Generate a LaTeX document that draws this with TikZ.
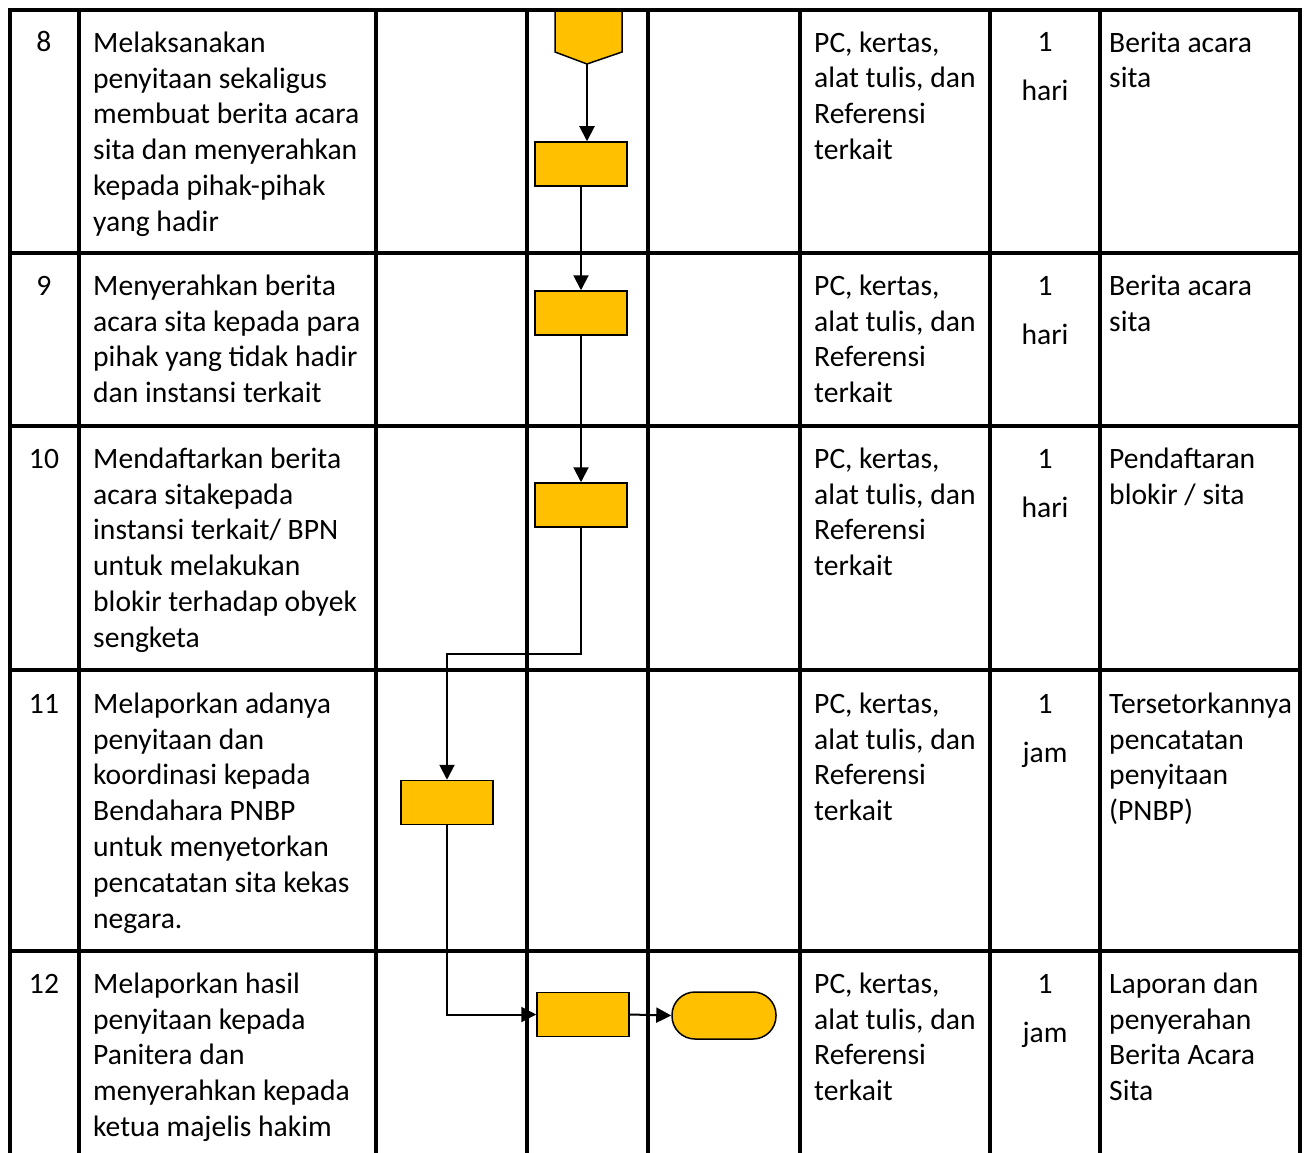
\documentclass[tikz,border=0pt]{standalone}
\usepackage{fontspec}
\setmainfont{Carlito}
\usetikzlibrary{arrows.meta,calc}
\definecolor{boxfill}{HTML}{FFC000}
\begin{document}
\begin{tikzpicture}[x=1pt,y=-1pt,
  grid/.style={line width=4pt,line cap=rect},
  txt/.style={anchor=north west,inner sep=0pt,align=left,font=\fontsize{29.6}{35.8}\selectfont},
  ctr/.style={anchor=base,inner sep=0pt,font=\fontsize{29.6}{35.8}\selectfont},
  proc/.style={draw,line width=1.5pt,fill=boxfill,minimum width=92pt,minimum height=44pt,inner sep=0pt},
  term/.style={draw,line width=1.5pt,fill=boxfill,minimum width=104pt,minimum height=47pt,inner sep=0pt,rounded corners=23pt},
  conn/.style={line width=2pt},
  arr/.style={conn,-{Triangle[length=15pt,width=15pt]}}]
\useasboundingbox (0,0) rectangle (1311,1153);
\fill[white] (0,0) rectangle (1311,1153);

% ---------- shapes ----------
\draw[line width=1.5pt,fill=boxfill] (555,10) -- (622,10) -- (622,52) -- (587,64) -- (555,52) -- cycle;
\coordinate (c0) at (587,64);
\node[proc] (b1) at (581,164) {};
\node[proc] (b2) at (581,313) {};
\node[proc] (b3) at (581,505) {};
\node[proc] (b4) at (447,802.5) {};
\node[proc] (b5) at (583,1014.5) {};
\node[term] (t1) at (724,1015.5) {};
\coordinate (k1) at (447,654);

\draw[arr] (c0) -- (c0 |- b1.north);
\draw[arr] (b1.south) -- (b2.north);
\draw[arr] (b2.south) -- (b3.north);
\draw[arr] (b3.south) |- (k1) -- (b4.north);
\draw[arr] (b4.south) |- (b5.west);
\draw[arr] (b5.east) -- (t1.west);

% ---------- table ----------
\draw[grid] (10,10) -- (1300,10);
\foreach \y in {253,426,670,951} \draw[grid] (10,\y) -- (1300,\y);
\foreach \x in {10,79,376,527,648,800,990,1100,1300} \draw[grid] (\x,10) -- (\x,1160);

% ---------- row 8 ----------
\node[ctr] (n8) at (44,52) {8};
\node[txt] (d8) at (93,26.94) {\strut Melaksanakan\\penyitaan sekaligus\\membuat berita acara\\sita dan menyerahkan\\kepada pihak-pihak\\yang hadir};
\node[txt] (r8) at (814,26.94) {\strut PC, kertas,\\alat tulis, dan\\Referensi\\terkait};
\node[ctr] (w8) at (1045,52) {1};
\node[ctr] (u8) at (1045,101) {hari};
\node[txt] (o8) at (1109,26.94) {\strut Berita acara\\sita};

% ---------- row 9 ----------
\node[ctr] (n9) at (44,295) {9};
\node[txt] (d9) at (93,269.94) {\strut Menyerahkan berita\\acara sita kepada para\\pihak yang tidak hadir\\dan instansi terkait};
\node[txt] (r9) at (814,269.94) {\strut PC, kertas,\\alat tulis, dan\\Referensi\\terkait};
\node[ctr] (w9) at (1045,295) {1};
\node[ctr] (u9) at (1045,344) {hari};
\node[txt] (o9) at (1109,269.94) {\strut Berita acara\\sita};

% ---------- row 10 ----------
\node[ctr] (n10) at (44,468) {10};
\node[txt] (d10) at (93,442.94) {\strut Mendaftarkan berita\\acara sitakepada\\instansi terkait/ BPN\\untuk melakukan\\blokir terhadap obyek\\sengketa};
\node[txt] (r10) at (814,442.94) {\strut PC, kertas,\\alat tulis, dan\\Referensi\\terkait};
\node[ctr] (w10) at (1045,468) {1};
\node[ctr] (u10) at (1045,517) {hari};
\node[txt] (o10) at (1109,442.94) {\strut Pendaftaran\\blokir / sita};

% ---------- row 11 ----------
\node[ctr] (n11) at (44,713) {11};
\node[txt] (d11) at (93,687.94) {\strut Melaporkan adanya\\penyitaan dan\\koordinasi kepada\\Bendahara PNBP\\untuk menyetorkan\\pencatatan sita kekas\\negara.};
\node[txt] (r11) at (814,687.94) {\strut PC, kertas,\\alat tulis, dan\\Referensi\\terkait};
\node[ctr] (w11) at (1045,713) {1};
\node[ctr] (u11) at (1045,762) {jam};
\node[txt] (o11) at (1109,687.94) {\strut Tersetorkannya\\pencatatan\\penyitaan\\(PNBP)};

% ---------- row 12 ----------
\node[ctr] (n12) at (44,993) {12};
\node[txt] (d12) at (93,967.94) {\strut Melaporkan hasil\\penyitaan kepada\\Panitera dan\\menyerahkan kepada\\ketua majelis hakim};
\node[txt] (r12) at (814,967.94) {\strut PC, kertas,\\alat tulis, dan\\Referensi\\terkait};
\node[ctr] (w12) at (1045,993) {1};
\node[ctr] (u12) at (1045,1042) {jam};
\node[txt] (o12) at (1109,967.94) {\strut Laporan dan\\penyerahan\\Berita Acara\\Sita};
\end{tikzpicture}
\end{document}
